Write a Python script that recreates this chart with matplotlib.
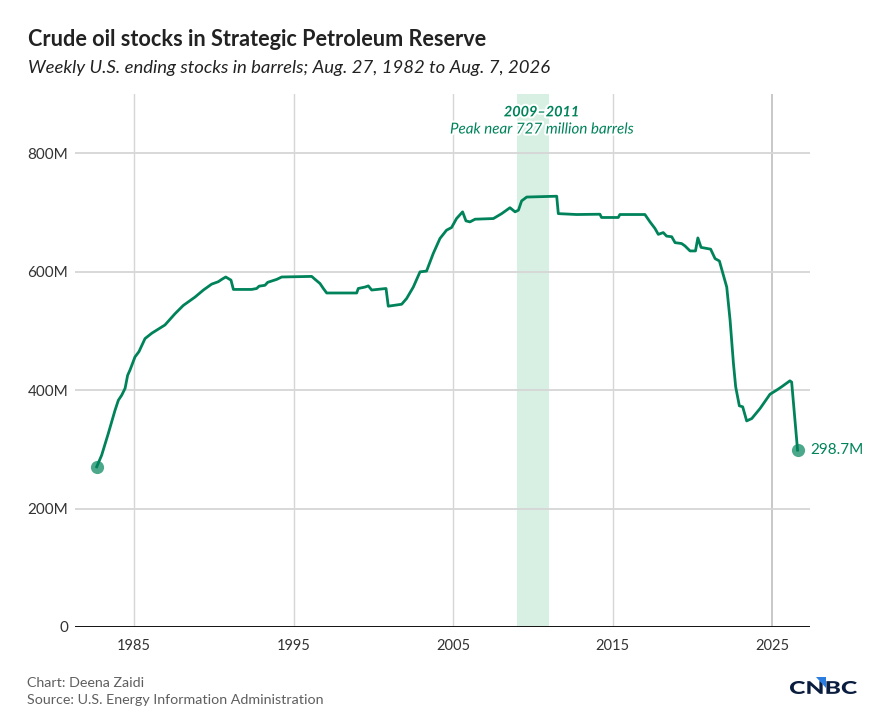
import matplotlib
matplotlib.use("Agg")
import matplotlib.pyplot as plt
import matplotlib.patheffects as pe
from matplotlib.textpath import TextPath
from matplotlib.font_manager import FontProperties
from matplotlib.patches import PathPatch, Polygon
from matplotlib.transforms import Affine2D, IdentityTransform
from matplotlib.ticker import FuncFormatter

plt.rcParams["font.family"] = ["Lato", "DejaVu Sans"]

# SPR ending stocks (decimal year, million barrels)
years = [
    1982.66, 1982.97, 1983.39, 1983.60, 1983.81, 1984.02, 1984.23, 1984.44,
    1984.60, 1984.75, 1985.06, 1985.31, 1985.69, 1986.11, 1986.94, 1987.57,
    1988.09, 1988.82, 1989.35, 1989.87, 1990.28, 1990.50, 1990.75, 1991.08,
    1991.23, 1992.38, 1992.69, 1992.84, 1993.21, 1993.38, 1993.95, 1994.26,
    1996.14, 1996.35, 1996.66, 1996.87, 1997.08, 1998.96, 1999.06, 1999.48,
    1999.69, 1999.90, 2000.42, 2000.80, 2000.94, 2001.78, 2002.09, 2002.51,
    2002.93, 2003.34, 2003.76, 2004.18, 2004.59, 2004.91, 2005.22, 2005.60,
    2005.81, 2006.06, 2006.38, 2007.53, 2008.05, 2008.57, 2008.89, 2009.10,
    2009.30, 2009.62, 2011.50, 2011.60, 2012.75, 2014.21, 2014.31, 2015.36,
    2015.46, 2017.03, 2017.35, 2017.66, 2017.87, 2018.18, 2018.39, 2018.71,
    2018.92, 2019.33, 2019.54, 2019.86, 2020.20, 2020.35, 2020.55, 2021.15,
    2021.43, 2021.70, 2021.95, 2022.16, 2022.37, 2022.58, 2022.72, 2022.95,
    2023.16, 2023.41, 2023.73, 2024.25, 2024.87, 2025.29, 2025.60, 2026.12,
    2026.23, 2026.60,
]
stocks_m = [
    270.5, 290, 327, 346.5, 366, 383, 391.5, 403,
    425, 434, 456, 465, 487, 496, 510, 529,
    543, 557, 569, 579, 583, 587, 591, 585.7,
    570, 570, 571.6, 575.5, 577, 582, 587, 591,
    592, 587, 580, 571.6, 564, 564, 571.6, 574,
    576, 569, 570.5, 571.6, 541.7, 545, 554.7, 574,
    599.7, 601, 630.7, 656, 670, 674.6, 689.7, 701,
    685.8, 684, 688.6, 689.7, 698, 708, 701, 703.8,
    719.5, 726, 727.4, 698, 696.5, 697, 691.5, 691.5,
    696.5, 696.5, 684, 673, 663, 666, 660, 659,
    649, 647.5, 643.5, 635, 635, 657, 641, 638,
    622, 618, 594, 574, 518, 445, 405.6, 373.5,
    371.8, 348, 352, 369, 393, 400, 405.6, 415.7,
    413.5, 298.7,
]
peak_span = (2009, 2011)
xticks = [1985, 1995, 2005, 2015, 2025]
yticks = [0, 200, 400, 600, 800]

GREEN = "#00835a"
TEXT = "#222222"
GRAY = "#5f5f5f"

fig = plt.figure(figsize=(8.72, 7.16), dpi=100)
ax = fig.add_axes([75 / 872, 1 - 627 / 716, 735 / 872, 533 / 716])

ax.axvspan(*peak_span, color="#d8f0e3", lw=0, zorder=0)
for xt in xticks:
    ax.axvline(xt, color="#c8c8c8" if xt == 2025 else "#d6d6d6",
               lw=1.4 if xt == 2025 else 1.0, zorder=1)
for yt in yticks[1:]:
    ax.axhline(yt, color="#d6d6d6", lw=1.3, zorder=1)
ax.axhline(0, color="#111111", lw=1.4, zorder=2)

ax.plot(years, stocks_m, color=GREEN, lw=2.0, solid_joinstyle="round", zorder=4)
ax.scatter([years[0], years[-1]], [stocks_m[0], stocks_m[-1]], s=90,
           color=GREEN, alpha=0.7, lw=0, zorder=5)
ax.annotate(f"{stocks_m[-1]:.1f}M", (years[-1], stocks_m[-1]), xytext=(9, 0),
            textcoords="offset points", va="center", ha="left",
            fontsize=11, color=GREEN)

halo = [pe.withStroke(linewidth=3, foreground="white")]
ax.text(2010.55, 869, "2009\u20132011", ha="center", va="center",
        fontsize=10.4, fontweight="bold", style="italic", color=GREEN,
        path_effects=halo, zorder=6)
ax.text(2010.55, 840, "Peak near 727 million barrels", ha="center",
        va="center", fontsize=10.9, style="italic", color=GREEN,
        path_effects=halo, zorder=6)

ax.set_xlim(1981.30, 2027.38)
ax.set_ylim(0, 900)
ax.set_xticks(xticks)
ax.set_yticks(yticks)
ax.yaxis.set_major_formatter(FuncFormatter(lambda v, _: "0" if v == 0 else f"{v:.0f}M"))
ax.tick_params(length=0, labelcolor="#333333")
ax.tick_params(axis="y", pad=5, labelsize=11)
ax.tick_params(axis="x", pad=9, labelsize=10.5)
for s in ax.spines.values():
    s.set_visible(False)

fig.text(28 / 872, 1 - 46 / 716, "Crude oil stocks in Strategic Petroleum Reserve",
         fontsize=15.6, fontweight="bold", color=TEXT, va="baseline")
fig.text(28 / 872, 1 - 73 / 716,
         "Weekly U.S. ending stocks in barrels; Aug. 27, 1982 to Aug. 7, 2026",
         fontsize=13.3, style="italic", color=TEXT, va="baseline")
fig.text(27 / 872, 1 - 683 / 716, "Chart: Deena Zaidi", fontsize=10.3,
         color=GRAY, va="center")
fig.text(27 / 872, 1 - 700 / 716, "Source: U.S. Energy Information Administration",
         fontsize=10.3, color=GRAY, va="center")

# CNBC wordmark, fitted into its pixel box
H = 716
tp = TextPath((0, 0), "CNBC", size=10, prop=FontProperties(family="Lato", weight="black"))
ext = tp.get_extents()
x0, x1, ytop, ybot = 790, 857, 681, 694
sx = (x1 - x0) / ext.width
sy = (ybot - ytop) / ext.height
tr = Affine2D().translate(-ext.x0, -ext.y0).scale(sx, sy).translate(x0, H - ybot)
fig.patches.append(PathPatch(tr.transform_path(tp), color="#0b1d3f", lw=0,
                             transform=IdentityTransform(), figure=fig))
fig.patches.append(Polygon([(816, H - 677), (826, H - 677), (826, H - 688)],
                           closed=True, color="#2b7de0", lw=0,
                           transform=IdentityTransform(), figure=fig))

fig.savefig("out.png", dpi=100)
